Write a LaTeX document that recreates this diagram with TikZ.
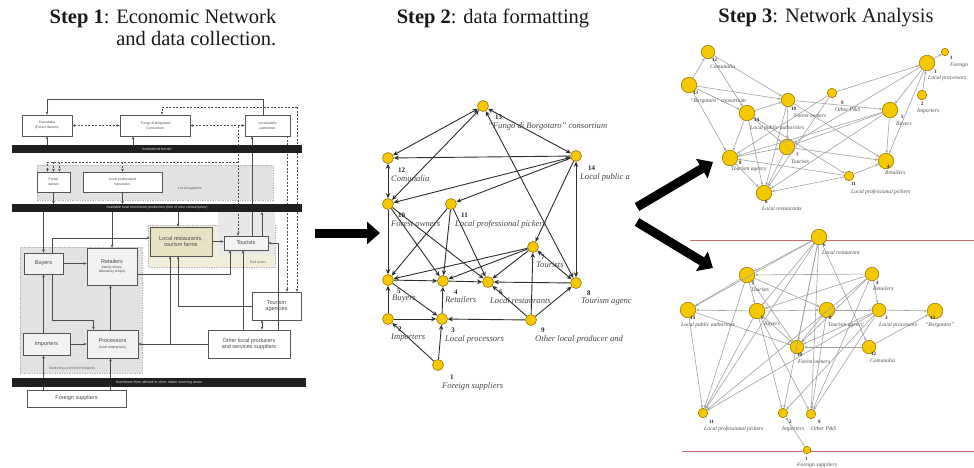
\documentclass[tikz,border=0pt]{standalone}
\usepackage{fontspec}
\setmainfont{Liberation Serif}
\newfontfamily\panelsans{Liberation Sans}
\usetikzlibrary{arrows.meta,calc}

\definecolor{nodeyellow}{HTML}{F5C800}
\definecolor{nodeedge}{HTML}{9A7A00}
\definecolor{boxline}{HTML}{555555}
\definecolor{panelgray}{HTML}{E2E2E2}
\definecolor{enduser}{HTML}{F0EEDA}
\definecolor{restfill}{HTML}{E7E3C2}
\definecolor{edgegray}{HTML}{A2A2A2}
\definecolor{sepred}{HTML}{C86A6A}

\newcommand\sm[1]{{\fontsize{3.4}{3.8}\selectfont #1}}

\tikzset{
  fbox/.style={draw=boxline, line width=0.7pt, fill=white, inner sep=0.5pt, align=center,
    font=\panelsans\fontsize{5.5}{6.2}\selectfont, text=black!72},
  bar/.style={fill=black!88, draw=none, inner sep=0, text=white!85!black,
    font=\panelsans\fontsize{3.6}{4}\selectfont},
  region/.style={fill=panelgray, draw=black!28, dash pattern=on 1.5pt off 1pt, line width=0.4pt},
  rlabel/.style={inner sep=0, text=black!60, font=\panelsans\fontsize{3.6}{4}\selectfont},
  flow/.style={draw=black!70, line width=0.75pt, ->},
  dflow/.style={flow, dash pattern=on 2pt off 1.5pt},
  gnode/.style={circle, fill=nodeyellow, draw=nodeedge, line width=0.6pt, inner sep=0, minimum size=11pt},
  bignode/.style={gnode, minimum size=15.5pt},
  midnode/.style={gnode, minimum size=13.5pt},
  smallnode/.style={gnode, minimum size=9.5pt},
  tinynode/.style={gnode, minimum size=7.5pt},
  gtwo/.style={draw=black!82, line width=0.9pt, -{Stealth[length=5pt,width=4.5pt]}},
  gtwob/.style={draw=black!82, line width=0.9pt, {Stealth[length=5pt,width=4.5pt]}-{Stealth[length=5pt,width=4.5pt]}},
  gthree/.style={draw=edgegray, line width=0.6pt, -{Stealth[length=3pt,width=2.6pt]}},
  labtwo/.style={inner sep=0, anchor=west, text=black!72, font=\itshape\fontsize{8.6}{9}\selectfont},
  numtwo/.style={inner sep=0, anchor=west, text=black!85, font=\bfseries\fontsize{7}{7}\selectfont},
  labthree/.style={inner sep=0, anchor=west, text=black!70, font=\itshape\fontsize{5.6}{6}\selectfont},
  numthree/.style={inner sep=0, anchor=west, text=black!85, font=\bfseries\fontsize{5}{5}\selectfont},
  stephead/.style={inner sep=0, font=\fontsize{20.5}{22}\selectfont, text=black!90},
  bigarrow/.style={draw=black, line width=9pt, -{Triangle[length=13pt,width=22pt]}},
}

\begin{document}
\begin{tikzpicture}[x=1pt, y=-1pt, >={Stealth[length=3pt,width=2.6pt]}]
\useasboundingbox (0,0) rectangle (974,467);
\fill[white] (0,0) rectangle (974,467);

% ---------------- titles ----------------
\node[stephead, align=right] (title1) at (163,28) {\textbf{Step 1}: Economic Network\\and data collection.};
\node[stephead] (title2) at (493,18) {\textbf{Step 2}: data formatting};
\node[stephead] (title3) at (826,18) {\textbf{Step 3}: Network Analysis};

% ---------------- step 1: economic network ----------------
\path[region] (37,165) rectangle (273,200);
\path[region, fill=enduser] (148,225) rectangle (275,267);
\path[region, draw=none, fill=panelgray!80] (218,212) rectangle (275,255);
\path[region] (20,247) rectangle (142,373);
\node[rlabel] (lsup) at (190,189) {Local suppliers};
\node[rlabel] (eusr) at (258,262) {End users};
\node[rlabel] (mint) at (72,369) {Marketing and intermediaries};

\node[fbox, minimum width=50, minimum height=21] (com) at (47,125.5) {\sm{Comunalia}\\[-1pt]\sm{(Forest owners)}};
\node[fbox, minimum width=70, minimum height=21] (fun) at (155,125.5) {\sm{``Fungo di Borgotaro''}\\[-1pt]\sm{Consortium}};
\node[fbox, minimum width=45, minimum height=21] (lpa) at (267.5,125.5) {\sm{Local public}\\[-1pt]\sm{authorities}};
\node[fbox, minimum width=33, minimum height=20] (fo) at (53.5,182) {\sm{Forest}\\[-1pt]\sm{owners}};
\node[fbox, minimum width=79, minimum height=20] (lph) at (122.5,182) {\sm{Local professional}\\[-1pt]\sm{harvesters}};
\node[fbox, fill=restfill, minimum width=62, minimum height=29] (lr) at (181,241.5) {Local restaurants,\\tourism farms};
\node[fbox, fill=white!60!panelgray, minimum width=44, minimum height=14] (tou) at (246,243) {Tourists};
\node[fbox, fill=white!55!panelgray, minimum width=39, minimum height=21] (buy) at (43.5,263.5) {Buyers};
\node[fbox, fill=white!55!panelgray, minimum width=50, minimum height=37] (ret) at (112,266.5) {Retailers\\[-1pt]\sm{(family shops,}\\[-2pt]\sm{laboratory shops)}};
\node[fbox, fill=white!55!panelgray, minimum width=47, minimum height=22] (imp) at (46.5,344) {Importers};
\node[fbox, fill=white!55!panelgray, minimum width=51, minimum height=28] (pro) at (112.5,344) {Processors\\[-1pt]\sm{(local enterprises)}};
\node[fbox, minimum width=82, minimum height=28] (oth) at (249,344) {Other local producers\\and services suppliers};
\node[fbox, minimum width=49, minimum height=28] (tag) at (276.5,306) {Tourism\\agencies};
\node[fbox, minimum width=99, minimum height=17] (fs) at (76.5,398.5) {Foreign suppliers};

% links of the first chart
\coordinate (dr) at (297,107);
\coordinate (dv) at (238,126);
\coordinate (dh) at (238,162);
\draw[flow] ([xshift=-4.5]lpa.north) -- ++(0,-15) -| (com.north);
\draw[dflow] (dr) -| ([xshift=7]fun.north);
\draw[dflow] (dr) -- (dr |- tag.north);
\draw[dflow] ([xshift=19.5]lpa.south) -- ([xshift=19.5]lpa.south |- tag.north);
\draw[dflow, <->] (com.east) -- (fun.west);
\draw[dflow, <->] (fun.east) -- (lpa.west);
\draw[dflow] (dv) -- (dv |- tou.north);
\draw[dflow] (dh) -| ([xshift=-6]fo.north);
\draw[dflow] (fo.north |- dh) -- (fo.north);
\draw[dflow] ([xshift=6]fo.north |- dh) -- ([xshift=6]fo.north);
\draw[dflow] (lph.north |- dh) -- (lph.north);
\draw[flow] (com.south |- 0,153) -- (com.south);
\draw[flow] ([xshift=-22]fun.south |- 0,153) -- ([xshift=-22]fun.south);
\draw[flow] ([xshift=-15.5]lpa.south |- tou.north) -- ([xshift=-15.5]lpa.south);
\draw[flow] (fo.south) -- (fo.south |- 0,204);
\draw[flow] (lph.south) -- (lph.south |- 0,204);
\draw[flow] (buy.north |- 0,212) -- (buy.north);
\draw[flow] (ret.north |- 0,212) -- (ret.north);
\draw[flow] ([xshift=-3]lr.north |- 0,212) -- ([xshift=-3]lr.north);
\draw[flow] ([xshift=16]tou.north) -- ([xshift=16]tou.north |- 0,212);
\draw[flow] ([xshift=8.5]buy.north) |- ([yshift=3.5]lr.west);
\draw[flow] (buy.east) -- (buy.east -| ret.west);
\draw[flow] (lr.east) -- (lr.east -| tou.west);
\draw[flow] ([yshift=-7.5]ret.east) -| ([xshift=-16]tou.south);
\draw[flow] ([xshift=32]tou.south |- oth.north) |- (tou.east);
\draw[flow] ([xshift=-3]tou.south |- oth.north) -- ([xshift=-3]tou.south);
\draw[flow, <->] ([xshift=13]oth.north) -- ([xshift=13]oth.north |- tag.south);
\draw[flow] (oth.west) -- (pro.east);
\draw[flow] ([xshift=-11]lr.south |- pro.east) -- ([xshift=-11]lr.south);
\draw[flow] (tag.west) -| ([xshift=-3]lr.south);
\draw[flow] (imp.east) -- (pro.west);
\draw[flow] ([xshift=-3]imp.north) -- ([xshift=-3]imp.north |- buy.south);
\draw[flow] ([xshift=8.5]buy.south) -- ++(0,46) -| ([xshift=-19]pro.north);
\draw[flow] ([xshift=-2]pro.north) -- ([xshift=-2]pro.north |- ret.south);
\draw[flow] ([xshift=-33]fs.north) -- ([xshift=-33]fs.north |- imp.south);
\draw[flow] ([xshift=34]fs.north) -- ([xshift=34]fs.north |- pro.south);

% black borders across the chart
\node[bar, minimum width=290, minimum height=8] (b1) at (157,149) {Institutional border};
\node[bar, minimum width=290, minimum height=8] (b2) at (157,208) {Available local mushroom production (free of own consumption)};
\node[bar, minimum width=294, minimum height=9] (b3) at (159,382.5) {Mushroom from abroad or other Italian sourcing areas};

% ---------------- arrows between the steps ----------------
\coordinate (a1s) at (315,233);
\coordinate (a1e) at (380,233);
\coordinate (a2s) at (637,207);
\coordinate (a2e) at (713,162);
\coordinate (a3s) at (637,222);
\coordinate (a3e) at (713,268);
\draw[bigarrow] (a1s) -- (a1e);
\draw[bigarrow] (a2s) -- (a2e);
\draw[bigarrow] (a3s) -- (a3e);

% ---------------- step 2: directed graph ----------------
\node[gnode] (s13) at (483,106) {};
\node[gnode] (s12) at (388,158) {};
\node[gnode] (s14) at (576,156) {};
\node[gnode] (s10) at (388,204) {};
\node[gnode] (s11) at (451,204) {};
\node[gnode] (s7) at (533,247) {};
\node[gnode] (s5) at (388,280) {};
\node[gnode] (s4) at (443,281) {};
\node[gnode] (s6) at (488,282) {};
\node[gnode] (s8) at (576,283) {};
\node[gnode] (s2) at (388,319) {};
\node[gnode] (s3) at (442,319) {};
\node[gnode] (s9) at (531,320) {};
\node[gnode] (s1) at (438,365) {};

\draw[gtwob] (s12) -- (s13);
\draw[gtwob] (s10) -- (s13);
\draw[gtwob] (s13) -- (s14);
\draw[gtwob] (s13) -- (s8);
\draw[gtwo] (s14) -- (s12);
\draw[gtwob] (s14) -- (s10);
\draw[gtwo] (s14) -- (s11);
\draw[gtwo] (s14) -- (s7);
\draw[gtwob] (s14) -- (s8);
\draw[gtwob] (s12) -- (s10);
\draw[gtwo] (s10) -- (s5);
\draw[gtwo] (s10) -- (s4);
\draw[gtwo] (s10) -- (s6);
\draw[gtwo] (s11) -- (s5);
\draw[gtwo] (s11) -- (s4);
\draw[gtwo] (s11) -- (s6);
\draw[gtwo] (s7) -- (s5);
\draw[gtwo] (s7) -- (s4);
\draw[gtwo] (s7) -- (s6);
\draw[gtwob] (s7) -- (s8);
\draw[gtwo] (s5) -- (s4);
\draw[gtwo] (s4) -- (s6);
\draw[gtwo] (s8) -- (s6);
\draw[gtwo] (s5) -- (s3);
\draw[gtwo] (s2) -- (s5);
\draw[gtwo] (s2) -- (s3);
\draw[gtwo] (s3) -- (s4);
\draw[gtwo] (s9) -- (s3);
\draw[gtwo] (s9) -- (s7);
\draw[gtwo] (s9) -- (s6);
\draw[gtwo] (s9) -- (s8);
\draw[gtwo] (s1) -- (s2);
\draw[gtwo] (s1) -- (s3);

\node[numtwo] (ns13) at (495,117) {13};
\node[labtwo] (ls13) at (488,126) {``Fungo di Borgotaro'' consortium};
\node[numtwo] (ns12) at (398,170) {12};
\node[labtwo] (ls12) at (391,179) {Comunalia};
\node[numtwo] (ns14) at (588,168) {14};
\node[labtwo] (ls14) at (580,177) {Local public a};
\node[numtwo] (ns10) at (398,215) {10};
\node[labtwo] (ls10) at (391,224) {Forest owners};
\node[numtwo] (ns11) at (461,215) {11};
\node[labtwo] (ls11) at (455,224) {Local professional pickers};
\node[numtwo] (ns7) at (541,257) {7};
\node[labtwo] (ls7) at (536,265) {Tourists};
\node[numtwo] (ns5) at (397,291) {5};
\node[labtwo] (ls5) at (392,299) {Buyers};
\node[numtwo] (ns4) at (454,292) {4};
\node[labtwo] (ls4) at (445,300) {Retailers};
\node[numtwo] (ns6) at (499,292) {6};
\node[labtwo] (ls6) at (490,301) {Local restaurants};
\node[numtwo] (ns8) at (587,293) {8};
\node[labtwo] (ls8) at (581,302) {Tourism agenc};
\node[numtwo] (ns2) at (398,329) {2};
\node[labtwo] (ls2) at (391,338) {Importers};
\node[numtwo] (ns3) at (451,330) {3};
\node[labtwo] (ls3) at (445,339) {Local processors};
\node[numtwo] (ns9) at (541,330) {9};
\node[labtwo] (ls9) at (535,339) {Other local producer and};
\node[numtwo] (ns1) at (450,377) {1};
\node[labtwo] (ls1) at (442,386) {Foreign suppliers};

% ---------------- step 3: two network layouts ----------------
\draw[sepred, line width=0.6pt] (690,240) -- (974,240);
\draw[sepred, line width=0.6pt] (682,451) -- (974,451);

% upper layout
\node[midnode] (t12) at (708,52) {};
\node[bignode] (t13) at (689,85) {};
\node[bignode] (t14) at (747,113) {};
\node[midnode] (t10) at (788,100) {};
\node[smallnode] (t9) at (832,93) {};
\node[bignode] (t3) at (927,63) {};
\node[tinynode] (t1) at (945,52) {};
\node[smallnode] (t2) at (922,95) {};
\node[bignode] (t5) at (890,110) {};
\node[bignode] (t7) at (787,147) {};
\node[bignode] (t8) at (730,158) {};
\node[bignode] (t4) at (886,161) {};
\node[smallnode] (t11) at (849,176) {};
\node[bignode] (t6) at (764,193) {};

\foreach \a/\b in {t13/t12, t12/t10, t12/t14, t13/t14, t13/t10, t13/t8, t14/t10, t14/t8,
  t14/t6, t14/t7, t10/t7, t10/t6, t10/t4, t10/t5, t9/t3, t9/t6, t9/t8, t3/t1, t2/t3,
  t3/t5, t3/t4, t3/t7, t5/t8, t5/t6, t5/t7, t5/t4, t7/t4, t11/t4, t11/t6, t7/t6,
  t8/t6, t8/t7, t14/t11, t11/t8}
  \draw[gthree] (\a) -- (\b);

\node[numthree] (nt12) at (712,60) {12};
\node[labthree] (lt12) at (710,67) {Comunalia};
\node[numthree] (nt13) at (693,93) {13};
\node[labthree] (lt13) at (690,101) {``Borgotaro'' consortium};
\node[numthree] (nt14) at (754,120) {14};
\node[labthree] (lt14) at (750,128) {Local public authorities};
\node[numthree] (nt10) at (791,109) {10};
\node[labthree] (lt10) at (794,116) {Forest owners};
\node[numthree] (nt9) at (841,103) {9};
\node[labthree] (lt9) at (835,110) {Other P\&S};
\node[numthree] (nt3) at (934,72) {3};
\node[labthree] (lt3) at (928,78) {Local processors};
\node[numthree] (nt1) at (950,58) {1};
\node[labthree] (lt1) at (950,65) {Foreign};
\node[numthree] (nt2) at (921,104) {2};
\node[labthree] (lt2) at (917,111) {Importers};
\node[numthree] (nt5) at (901,117) {5};
\node[labthree] (lt5) at (896,124) {Buyers};
\node[numthree] (nt7) at (796,155) {7};
\node[labthree] (lt7) at (791,162) {Tourists};
\node[numthree] (nt8) at (739,163) {8};
\node[labthree] (lt8) at (731,169) {Tourism agency};
\node[numthree] (nt4) at (887,167) {4};
\node[labthree] (lt4) at (885,173) {Retailers};
\node[numthree] (nt11) at (851,184) {11};
\node[labthree] (lt11) at (851,192) {Local professional pickers};
\node[numthree] (nt6) at (765,202) {6};
\node[labthree] (lt6) at (762,209) {Local restaurants};

% lower layout
\node[bignode] (u6) at (819,237) {};
\node[bignode] (u7) at (747,275) {};
\node[midnode] (u4) at (872,274) {};
\node[bignode] (u14) at (688,310) {};
\node[bignode] (u5) at (757,311) {};
\node[bignode] (u8) at (827,310) {};
\node[midnode] (u3) at (879,310) {};
\node[bignode] (u13) at (935,311) {};
\node[midnode] (u10) at (797,347) {};
\node[midnode] (u12) at (869,347) {};
\node[smallnode] (u11) at (703,413) {};
\node[smallnode] (u2) at (783,413) {};
\node[smallnode] (u9) at (811,414) {};
\node[tinynode] (u1) at (807,450) {};

\foreach \a/\b in {u6/u7, u6/u5, u6/u10, u6/u11, u6/u2, u6/u9, u6/u14, u4/u7, u7/u14,
  u7/u5, u7/u8, u7/u11, u5/u14, u5/u8, u8/u3, u3/u13, u14/u11, u14/u10, u5/u10, u5/u11,
  u5/u2, u5/u9, u4/u5, u4/u3, u4/u11, u4/u10, u8/u10, u8/u9, u3/u10, u3/u2, u3/u9,
  u3/u11, u12/u10, u12/u13, u1/u2, u9/u4, u6/u12, u10/u7}
  \draw[gthree] (\a) -- (\b);

\node[numthree] (nu6) at (823,245) {6};
\node[labthree] (lu6) at (822,253) {Local restaurant};
\node[numthree] (nu7) at (752,283) {7};
\node[labthree] (lu7) at (751,290) {Tourists};
\node[numthree] (nu4) at (876,283) {4};
\node[labthree] (lu4) at (873,289) {Retailers};
\node[numthree] (nu14) at (690,318) {14};
\node[labthree] (lu14) at (681,325) {Local public authorities};
\node[numthree] (nu5) at (761,318) {5};
\node[labthree] (lu5) at (764,324) {Buyers};
\node[numthree] (nu8) at (829,318) {8};
\node[labthree] (lu8) at (828,325) {Tourism agency};
\node[numthree] (nu3) at (885,318) {3};
\node[labthree] (lu3) at (879,325) {Local processors};
\node[numthree] (nu13) at (930,318) {13};
\node[labthree] (lu13) at (925,325) {``Borgotaro''};
\node[numthree] (nu10) at (797,355) {10};
\node[labthree] (lu10) at (798,362) {Forest owners};
\node[numthree] (nu12) at (871,354) {12};
\node[labthree] (lu12) at (870,361) {Comunalia};
\node[numthree] (nu11) at (709,422) {11};
\node[labthree] (lu11) at (704,429) {Local professional pickers};
\node[numthree] (nu2) at (789,422) {2};
\node[labthree] (lu2) at (782,429) {Importers};
\node[numthree] (nu9) at (818,422) {9};
\node[labthree] (lu9) at (811,429) {Other P\&S};
\node[numthree] (nu1) at (805,459) {1};
\node[labthree] (lu1) at (797,465) {Foreign suppliers};
\end{tikzpicture}
\end{document}
